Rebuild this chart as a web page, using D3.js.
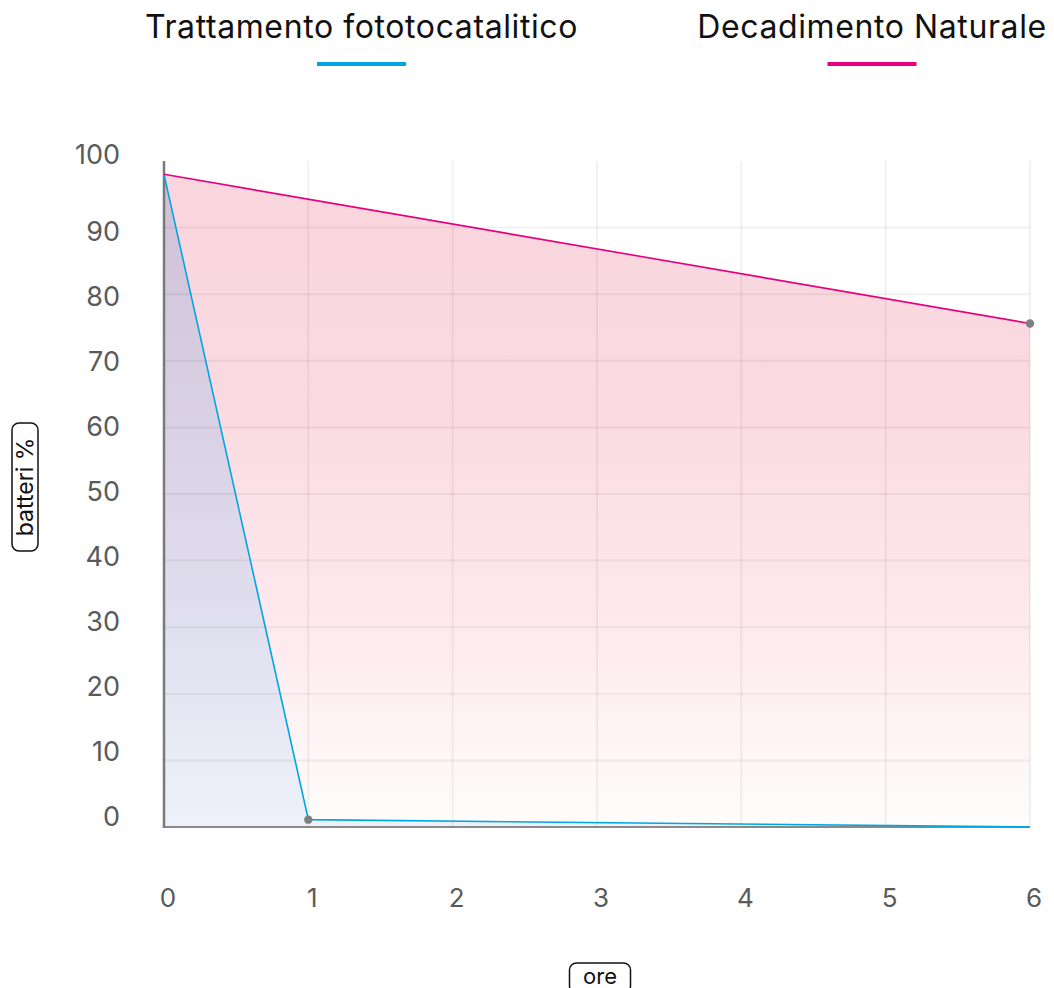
<!DOCTYPE html>
<html>
<head>
<meta charset="utf-8">
<script src="https://cdn.jsdelivr.net/npm/d3@7"></script>
<style>
  html, body { margin: 0; padding: 0; background: #fff; }
  svg { display: block; font-family: Inter, "Liberation Sans", sans-serif; }
</style>
</head>
<body>
<svg id="chart" width="1054" height="988"></svg>
<script>
// Percentage of surviving bacteria over time (hours)
const hours = [0, 1, 2, 3, 4, 5, 6];
const yTicks = [0, 10, 20, 30, 40, 50, 60, 70, 80, 90, 100];

const photoHours = [0, 1, 6];
const photoValues = [98, 1.1, 0];

const naturalHours = [0, 6];
const naturalValues = [98, 75.6];

const seriesNames = ["Trattamento fototocatalitico", "Decadimento Naturale"];
const seriesColors = ["#00a6e4", "#e6007e"];

// Points highlighted with a marker: [series index, hour]
const markers = [[0, 1], [1, 6]];

const axisTitles = { x: "ore", y: "batteri %" };

const svg = d3.select("#chart");

const x = d3.scaleLinear().domain([0, 6]).range([164, 1030]);
const y = d3.scaleLinear().domain([0, 100]).range([827, 161]);
// tick labels sit on their own slightly compressed track
const yLabel = d3.scaleLinear().domain([0, 90, 100]).range([816, 231.5, 154.5]);

const series = [
  { name: seriesNames[0], color: seriesColors[0], pts: photoHours.map((h, i) => ({ h, v: photoValues[i] })) },
  { name: seriesNames[1], color: seriesColors[1], pts: naturalHours.map((h, i) => ({ h, v: naturalValues[i] })) }
];

const defs = svg.append("defs");
const gPink = defs.append("linearGradient").attr("id", "fillNatural")
  .attr("gradientUnits", "userSpaceOnUse").attr("x1", 0).attr("x2", 0)
  .attr("y1", y(98)).attr("y2", y(0));
[[0, "#f9d5dd"], [0.35, "#fadae1"], [0.7, "#fdeaee"], [1, "#fefcfc"]].forEach(([o, c]) =>
  gPink.append("stop").attr("offset", o).attr("stop-color", c));

const gBlue = defs.append("linearGradient").attr("id", "fillPhoto")
  .attr("gradientUnits", "userSpaceOnUse").attr("x1", 0).attr("x2", 0)
  .attr("y1", y(98)).attr("y2", y(0));
[[0, "#d0c0d7"], [0.4, "#d9d2e4"], [0.7, "#e1e0ef"], [1, "#edf1fa"]].forEach(([o, c]) =>
  gBlue.append("stop").attr("offset", o).attr("stop-color", c));

const area = d3.area().x(d => x(d.h)).y0(y(0)).y1(d => y(d.v));
const line = d3.line().x(d => x(d.h)).y(d => y(d.v));

// filled areas (natural decay behind, photocatalytic on top)
svg.append("path").datum(series[1].pts).attr("d", area).attr("fill", "url(#fillNatural)");
svg.append("path").datum(series[0].pts).attr("d", area).attr("fill", "url(#fillPhoto)");

// grid
const grid = svg.append("g").attr("stroke", "rgba(0,0,0,0.055)").attr("stroke-width", 2);
grid.selectAll("line.h").data(yTicks.filter(t => t > 0 && t < 100)).join("line")
  .attr("x1", x(0)).attr("x2", x(6)).attr("y1", d => y(d)).attr("y2", d => y(d));
grid.selectAll("line.v").data(hours.filter(h => h > 0)).join("line")
  .attr("x1", d => x(d)).attr("x2", d => x(d)).attr("y1", y(100)).attr("y2", y(0));

// axes lines
svg.append("line").attr("x1", x(0)).attr("x2", x(6)).attr("y1", y(0)).attr("y2", y(0))
  .attr("stroke", "#8a8a8a").attr("stroke-width", 2);
svg.append("line").attr("x1", x(0)).attr("x2", x(0)).attr("y1", y(100)).attr("y2", y(0) + 1)
  .attr("stroke", "#7a7a7a").attr("stroke-width", 2.5);

// series lines
series.forEach(s => {
  svg.append("path").datum(s.pts).attr("d", line)
    .attr("fill", "none").attr("stroke", s.color).attr("stroke-width", 1.6);
});

// markers
svg.selectAll("circle.m").data(markers).join("circle")
  .attr("cx", d => x(d[1]))
  .attr("cy", d => y(series[d[0]].pts.find(p => p.h === d[1]).v))
  .attr("r", 4.2).attr("fill", "#7f7f7f");

// y tick labels
svg.append("g").selectAll("text").data(yTicks).join("text")
  .attr("x", 120).attr("y", d => yLabel(d))
  .attr("dy", "0.36em").attr("text-anchor", "end")
  .attr("font-size", 27).attr("fill", "#5a5a5a").text(d => d);

// x tick labels
svg.append("g").selectAll("text").data(hours).join("text")
  .attr("x", d => x(d) + 4).attr("y", 898)
  .attr("dy", "0.36em").attr("text-anchor", "middle")
  .attr("font-size", 26).attr("fill", "#5a5a5a").text(d => d);

// legend
const legendCenters = [361.5, 872];
series.forEach((s, i) => {
  const g = svg.append("g").attr("transform", `translate(${legendCenters[i]},0)`);
  g.append("text").attr("x", 0).attr("y", 38).attr("text-anchor", "middle")
    .attr("font-size", 32).attr("letter-spacing", 0.6).attr("fill", "#111").text(s.name);
  g.append("rect").attr("x", -44.5).attr("y", 62).attr("width", 89).attr("height", 4)
    .attr("fill", s.color);
});

// axis titles in rounded boxes
const yt = svg.append("g").attr("transform", "translate(25,487) rotate(-90)");
yt.append("rect").attr("x", -64).attr("y", -13).attr("width", 128).attr("height", 26)
  .attr("rx", 7).attr("fill", "none").attr("stroke", "#111").attr("stroke-width", 1.5);
yt.append("text").attr("text-anchor", "middle").attr("dy", "0.36em")
  .attr("font-size", 23).attr("fill", "#111").text(axisTitles.y);

const xt = svg.append("g").attr("transform", "translate(600,976)");
xt.append("rect").attr("x", -30.5).attr("y", -13).attr("width", 61).attr("height", 30)
  .attr("rx", 7).attr("fill", "none").attr("stroke", "#111").attr("stroke-width", 1.5);
xt.append("text").attr("text-anchor", "middle").attr("dy", "0.36em")
  .attr("font-size", 22).attr("fill", "#111").text(axisTitles.x);
</script>
</body>
</html>
